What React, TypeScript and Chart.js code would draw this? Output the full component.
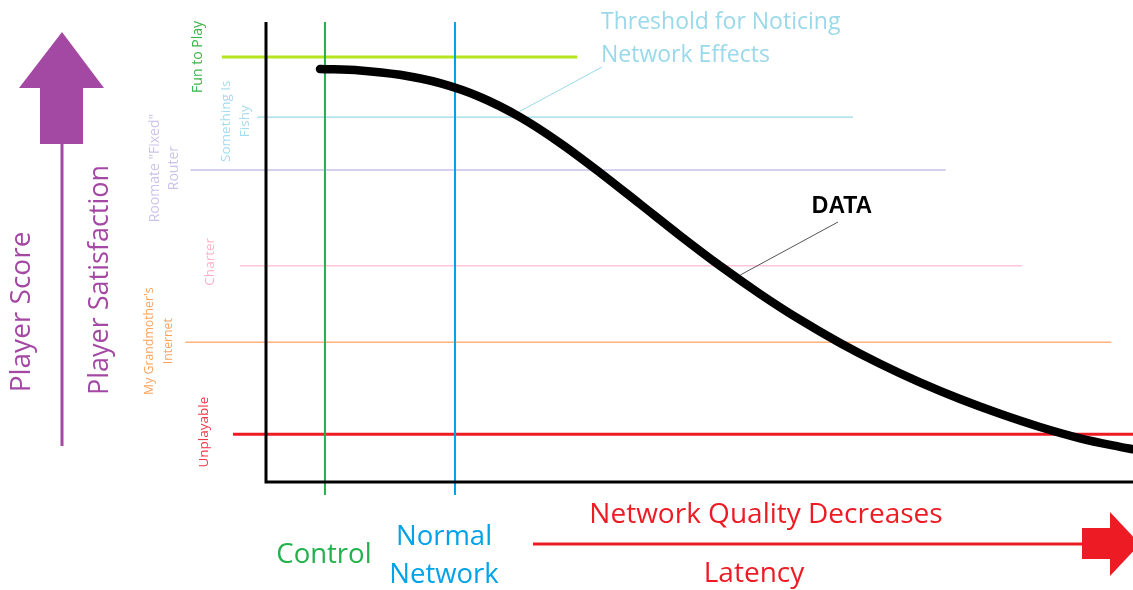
import React, { useEffect, useRef } from "react";
import { Chart, registerables } from "chart.js";

Chart.register(...registerables);

// ---- Data (x: latency units 0-100, y: player satisfaction 0-100) ----
const curveX = [6.23, 10.84, 15.46, 20.07, 24.68, 29.30, 33.91, 38.52, 43.14, 47.75, 52.36, 56.98, 61.59, 66.21, 70.82, 75.43, 80.05, 84.66, 89.27, 93.89, 98.50, 100];
const curveY = [89.78, 89.48, 88.52, 86.70, 83.70, 79.33, 73.72, 67.28, 60.43, 53.57, 47.00, 40.89, 35.28, 30.22, 25.70, 21.65, 18.04, 14.83, 11.96, 9.50, 7.65, 7.11];

const thresholdNames = ["Fun to Play", "Something Is Fishy", 'Roomate "Fixed" Router', "Charter", "My Grandmother's Internet", "Unplayable"];
const thresholdY = [92.4, 79.3, 67.8, 47.0, 30.4, 10.4];
const thresholdStartX = [-5.1, -1.0, -8.7, -3.0, -9.3, -3.8];
const thresholdEndX = [35.9, 67.7, 78.4, 87.2, 97.5, 100];

const markerNames = ["Control", "Normal Network"];
const markerX = [6.8, 21.8];
const markerTopY = [100, 100];
const markerBottomY = [-2.8, -2.8];

// ---- Styles ----
const thresholdColors = ["#b5e61d", "#99d9ea", "#c8bfe7", "#ffc4d6", "#ffb27a", "#ed1c24"];
const thresholdWidths = [3, 1.2, 1.5, 1.5, 1.5, 3];
const markerColors = ["#22b14c", "#00a2e8"];
const PURPLE = "#a349a4";
const RED = "#ed1c24";
const FONT = '"Open Sans", "Noto Sans", sans-serif';

const annotationPlugin = {
  id: "diagramAnnotations",
  afterDraw(chart: any) {
    const ctx = chart.ctx as CanvasRenderingContext2D;
    const xs = chart.scales.x;
    const ys = chart.scales.y;
    const px = (v: number) => xs.getPixelForValue(v);
    const py = (v: number) => ys.getPixelForValue(v);
    const area = chart.chartArea;

    ctx.save();

    const rotText = (lines: string[], x: number, y: number, color: string, size: number, lh: number) => {
      ctx.save();
      ctx.translate(x, y);
      ctx.rotate(-Math.PI / 2);
      ctx.fillStyle = color;
      ctx.font = `${size}px ${FONT}`;
      ctx.textAlign = "center";
      ctx.textBaseline = "middle";
      lines.forEach((l, i) => ctx.fillText(l, 0, i * lh));
      ctx.restore();
    };

    // Left-side threshold labels (rotated), centred on each threshold line
    const lab = [
      { lines: ["Fun to Play"], dx: -68, dy: 0, color: "#3db54a", size: 14 },
      { lines: ["Something Is", "Fishy"], dx: -40, dy: 4, color: "#a6dcec", size: 13.5 },
      { lines: ['Roomate "Fixed"', "Router"], dx: -111, dy: -2, color: "#cdc4ea", size: 14 },
      { lines: ["Charter"], dx: -56, dy: -4, color: "#ffb3c9", size: 13.5 },
      { lines: ["My Grandmother's", "Internet"], dx: -117, dy: -1, color: "#ffa35c", size: 12.3 },
      { lines: ["Unplayable"], dx: -62, dy: -2, color: "#ee3a48", size: 13.5 },
    ];
    lab.forEach((l, i) => {
      rotText(l.lines, area.left + l.dx, py(thresholdY[i]) + l.dy, l.color, l.size, 19.5);
    });

    // Purple arrow and axis titles
    ctx.fillStyle = PURPLE;
    ctx.strokeStyle = PURPLE;
    ctx.lineWidth = 3;
    ctx.beginPath();
    ctx.moveTo(62, 140);
    ctx.lineTo(62, 446);
    ctx.stroke();
    ctx.fillRect(40, 88, 43, 56);
    ctx.beginPath();
    ctx.moveTo(62, 32);
    ctx.lineTo(104, 88);
    ctx.lineTo(19, 88);
    ctx.closePath();
    ctx.fill();
    rotText(["Player Score"], 22, 312, PURPLE, 28, 0);
    rotText(["Player Satisfaction"], 100, 280, PURPLE, 27, 0);

    // Threshold for noticing network effects
    ctx.fillStyle = "#99d9ea";
    ctx.font = `23px ${FONT}`;
    ctx.textAlign = "left";
    ctx.textBaseline = "middle";
    ctx.fillText("Threshold for Noticing", 601, 22);
    ctx.fillText("Network Effects", 601, 55);
    ctx.strokeStyle = "#99d9ea";
    ctx.lineWidth = 1;
    ctx.beginPath();
    ctx.moveTo(602, 67);
    ctx.lineTo(px(29.2), py(80.5));
    ctx.stroke();

    // DATA label
    ctx.fillStyle = "#000";
    ctx.font = `bold 23px "Liberation Sans", Arial, sans-serif`;
    ctx.textAlign = "center";
    ctx.fillText("DATA", 842, 207);
    ctx.strokeStyle = "#555";
    ctx.lineWidth = 1;
    ctx.beginPath();
    ctx.moveTo(838, 222);
    ctx.lineTo(px(54.7), py(45.0));
    ctx.stroke();

    // Bottom labels
    ctx.font = `27.5px ${FONT}`;
    ctx.fillStyle = markerColors[0];
    ctx.fillText("Control", px(markerX[0]) - 1, 555);
    ctx.fillStyle = markerColors[1];
    ctx.fillText("Normal", px(markerX[1]) - 11, 537);
    ctx.fillText("Network", px(markerX[1]) - 11, 575);
    ctx.fillStyle = RED;
    ctx.font = `28px ${FONT}`;
    ctx.fillText("Network Quality Decreases", 766, 515);
    ctx.fillText("Latency", 754, 574);

    // Red arrow
    ctx.strokeStyle = RED;
    ctx.lineWidth = 3;
    ctx.beginPath();
    ctx.moveTo(533, 544);
    ctx.lineTo(1085, 544);
    ctx.stroke();
    ctx.fillRect(1082, 528, 29, 31);
    ctx.beginPath();
    ctx.moveTo(1110, 512);
    ctx.lineTo(1140, 544);
    ctx.lineTo(1110, 576);
    ctx.closePath();
    ctx.fill();

    ctx.restore();
  },
};

export default function App() {
  const ref = useRef<HTMLCanvasElement | null>(null);
  useEffect(() => {
    if (!ref.current) return;
    const datasets: any[] = [];
    datasets.push({
      label: "DATA",
      data: curveX.map((x, i) => ({ x, y: curveY[i] })),
      borderColor: "#000",
      borderWidth: 8.5,
      cubicInterpolationMode: "monotone",
      borderCapStyle: "round",
      borderJoinStyle: "round",
      pointRadius: 0,
      clip: false,
      order: 0,
    });
    datasets.push({
      label: "axes",
      data: [{ x: 0, y: 100 }, { x: 0, y: 0 }, { x: 100, y: 0 }],
      borderColor: "#000",
      borderWidth: 3,
      pointRadius: 0,
      tension: 0,
      clip: false,
      order: 1,
    });
    markerNames.forEach((n, i) => {
      datasets.push({
        label: n,
        data: [{ x: markerX[i], y: markerTopY[i] }, { x: markerX[i], y: markerBottomY[i] }],
        borderColor: markerColors[i],
        borderWidth: 2,
        pointRadius: 0,
        clip: false,
        order: 2,
      });
    });
    thresholdNames.forEach((n, i) => {
      datasets.push({
        label: n,
        data: [{ x: thresholdStartX[i], y: thresholdY[i] }, { x: thresholdEndX[i], y: thresholdY[i] }],
        borderColor: thresholdColors[i],
        borderWidth: thresholdWidths[i],
        pointRadius: 0,
        clip: false,
        order: 3,
      });
    });

    const chart = new Chart(ref.current, {
      type: "line",
      data: { datasets },
      options: {
        animation: false,
        responsive: true,
        maintainAspectRatio: false,
        layout: { padding: { left: 266, right: 0, top: 22, bottom: 108 } },
        plugins: { legend: { display: false }, tooltip: { enabled: false } },
        scales: {
          x: { type: "linear", min: 0, max: 100, display: false },
          y: { type: "linear", min: 0, max: 100, display: false },
        },
        events: [],
      },
      plugins: [annotationPlugin],
    });
    return () => chart.destroy();
  }, []);

  return (
    <div style={{ position: "absolute", left: 0, top: 0, width: 1133, height: 590, background: "#fff" }}>
      <canvas ref={ref} />
    </div>
  );
}
